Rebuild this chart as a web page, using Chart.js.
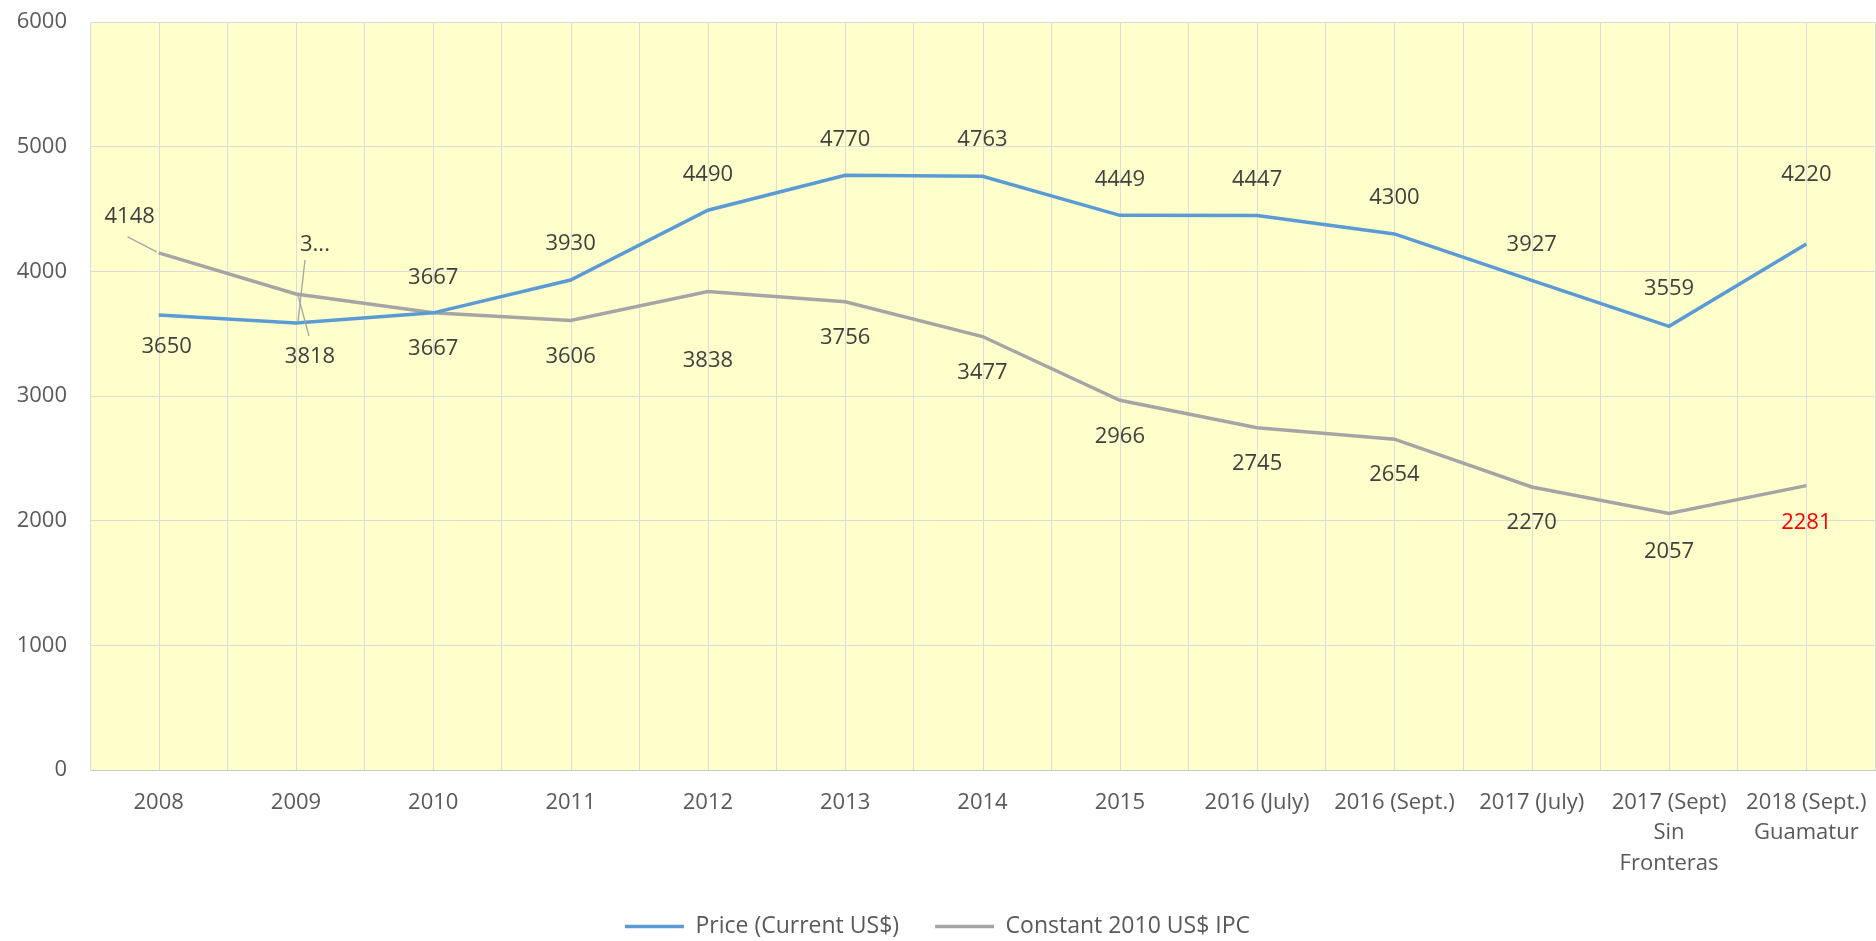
<!DOCTYPE html>
<html lang="en">
<head>
  <meta charset="UTF-8">
  <title>Price (Current US$) vs Constant 2010 US$ IPC</title>
  <script src="https://cdn.jsdelivr.net/npm/chart.js"></script>
  <style>
    html, body { margin: 0; padding: 0; background: #fff; }
    #wrap { width: 1876px; height: 941px; }
  </style>
</head>
<body>
<div id="wrap"><canvas id="priceChart"></canvas></div>

<script>
  const categories = ['2008', '2009', '2010', '2011', '2012', '2013', '2014', '2015',
    '2016 (July)', '2016 (Sept.)', '2017 (July)',
    ['2017 (Sept)', 'Sin', 'Fronteras'], ['2018 (Sept.)', 'Guamatur']];
  const priceCurrent = [3650, 3585, 3667, 3930, 4490, 4770, 4763, 4449, 4447, 4300, 3927, 3559, 4220];
  const constant2010 = [4148, 3818, 3667, 3606, 3838, 3756, 3477, 2966, 2745, 2654, 2270, 2057, 2281];
  const yTicks = [0, 1000, 2000, 3000, 4000, 5000, 6000];

  // label text: the 2009 price label is truncated in the original
  const priceText = priceCurrent.map(String);
  priceText[1] = '3...';
  const constText = constant2010.map(String);

  // label placement relative to the point (px)
  const priceDx = [8, 19, 0, 0, 0, 0, 0, 0, 0, 0, 0, 0, 0];
  const priceDy = [32, -78, -35, -36, -36, -36, -36, -36, -36, -36, -36, -38, -69];
  const constDx = [-29, 14, 0, 0, 0, 0, 0, 0, 0, 0, 0, 0, 0];
  const constDy = [-36, 63, 36, 36, 69, 36, 36, 36, 36, 36, 36, 38, 37];
  const constColors = ['#404040', '#404040', '#404040', '#404040', '#404040', '#404040', '#404040',
    '#404040', '#404040', '#404040', '#404040', '#404040', '#FF0000'];

  Chart.defaults.font.family = "'Open Sans', sans-serif";
  Chart.defaults.font.size = 22;
  Chart.defaults.color = '#595959';

  const plotBackground = {
    id: 'plotBackground',
    beforeDraw(chart) {
      const { ctx, chartArea: a } = chart;
      ctx.save();
      ctx.fillStyle = '#FFFFCC';
      ctx.fillRect(a.left, a.top, a.width, a.height);
      ctx.restore();
    }
  };

  // Excel draws a gridline through each category as well as between them
  const centreGrid = {
    id: 'centreGrid',
    beforeDatasetsDraw(chart) {
      const { ctx, chartArea: a } = chart;
      const x = chart.scales.x;
      ctx.save();
      ctx.strokeStyle = '#DCDCDC';
      ctx.lineWidth = 1;
      x.ticks.forEach((t, i) => {
        const px = Math.round(x.getPixelForTick(i)) + 0.5;
        ctx.beginPath();
        ctx.moveTo(px, a.top);
        ctx.lineTo(px, a.bottom);
        ctx.stroke();
      });
      ctx.restore();
    }
  };

  const pointLabels = {
    id: 'pointLabels',
    afterDatasetsDraw(chart) {
      const ctx = chart.ctx;
      const p = chart.getDatasetMeta(0).data;
      const c = chart.getDatasetMeta(1).data;

      // leader lines for the labels that were dragged away
      ctx.save();
      ctx.strokeStyle = '#A5A5A5';
      ctx.lineWidth = 1.3;
      const lead = (pt, x1, y1, x2, y2) => {
        ctx.beginPath();
        ctx.moveTo(pt.x + x1, pt.y + y1);
        ctx.lineTo(pt.x + x2, pt.y + y2);
        ctx.stroke();
      };
      lead(c[0], -31, -16, -2, -1);
      lead(p[1], 9, -63, 2, -1);
      lead(c[1], 2, 1, 13, 42);
      ctx.restore();

      ctx.save();
      ctx.font = "22px 'Open Sans', sans-serif";
      ctx.textAlign = 'center';
      ctx.textBaseline = 'middle';
      p.forEach((pt, i) => {
        ctx.fillStyle = '#404040';
        ctx.fillText(priceText[i], pt.x + priceDx[i], pt.y + priceDy[i]);
      });
      c.forEach((pt, i) => {
        ctx.fillStyle = constColors[i];
        ctx.fillText(constText[i], pt.x + constDx[i], pt.y + constDy[i]);
      });
      ctx.restore();
    }
  };

  const ctx = document.getElementById('priceChart').getContext('2d');
  new Chart(ctx, {
    type: 'line',
    data: {
      labels: categories,
      datasets: [{
        label: 'Price (Current US$)',
        data: priceCurrent,
        borderColor: '#5B9BD5',
        backgroundColor: '#5B9BD5',
        borderWidth: 3.5,
        pointRadius: 0,
        tension: 0
      }, {
        label: 'Constant 2010 US$ IPC',
        data: constant2010,
        borderColor: '#A5A5A5',
        backgroundColor: '#A5A5A5',
        borderWidth: 3.5,
        pointRadius: 0,
        tension: 0
      }]
    },
    options: {
      responsive: true,
      maintainAspectRatio: false,
      animation: false,
      layout: { padding: { top: 22, right: 1, left: 0, bottom: 0 } },
      scales: {
        x: {
          offset: true,
          // invisible tick marks give the label gap without widening the side padding
          grid: { color: '#DCDCDC', offset: true, drawTicks: true, tickLength: 17, tickColor: 'rgba(0,0,0,0)' },
          border: { color: '#C8C8C8', width: 1 },
          ticks: {
            padding: 0,
            maxRotation: 0,
            autoSkip: false,
            color: '#595959',
            font: { size: 22, lineHeight: 1.4 }
          },
          afterFit(scale) { scale.height = 109; }
        },
        y: {
          min: 0,
          max: 6000,
          afterBuildTicks(scale) { scale.ticks = yTicks.map(v => ({ value: v })); },
          grid: { color: '#DCDCDC', drawTicks: true, tickLength: 23, tickColor: 'rgba(0,0,0,0)' },
          border: { color: '#DCDCDC' },
          ticks: { padding: 0, color: '#595959', callback: v => String(v) },
          afterFit(scale) { scale.width = 90; }
        }
      },
      plugins: {
        legend: {
          position: 'bottom',
          maxHeight: 62,
          labels: {
            usePointStyle: true,
            pointStyle: 'line',
            pointStyleWidth: 59,
            padding: 36,
            color: '#595959',
            font: { size: 23 }
          }
        },
        tooltip: { enabled: false }
      }
    },
    plugins: [plotBackground, centreGrid, pointLabels]
  });
</script>
</body>
</html>
